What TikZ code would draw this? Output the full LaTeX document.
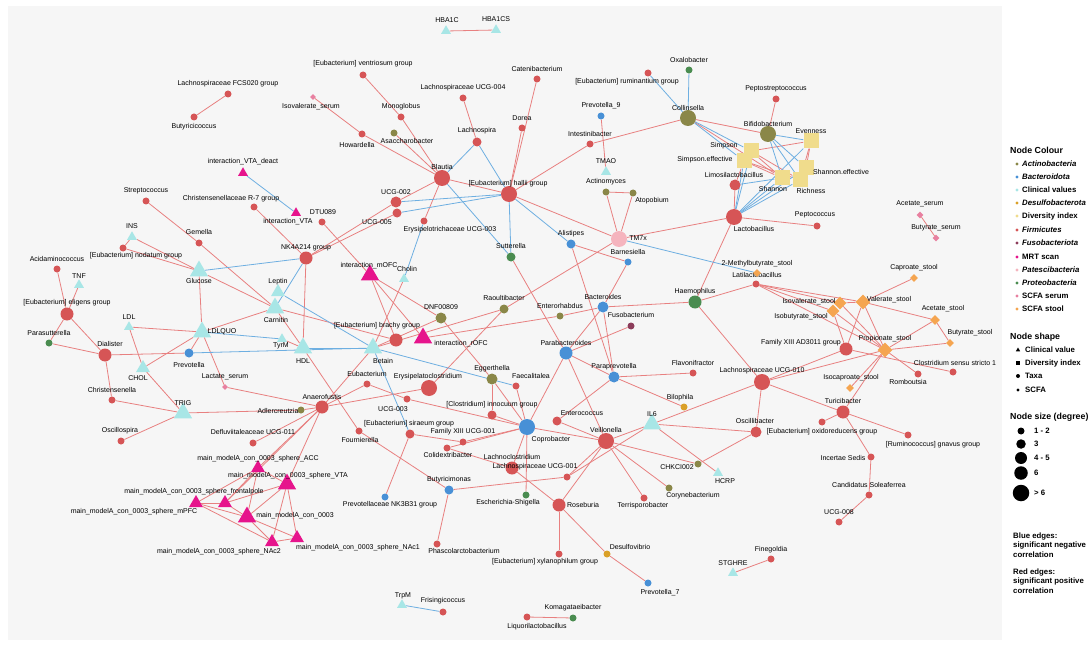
\documentclass[tikz,border=0pt]{standalone}
\usepackage{fontspec}
\setmainfont{Liberation Sans}
\usetikzlibrary{shapes.geometric}
\definecolor{cfir}{RGB}{214,85,86}
\definecolor{cbac}{RGB}{72,144,214}
\definecolor{cact}{RGB}{138,135,72}
\definecolor{cpro}{RGB}{74,140,80}
\definecolor{cfus}{RGB}{140,60,90}
\definecolor{cpat}{RGB}{245,180,190}
\definecolor{cdes}{RGB}{218,160,40}
\definecolor{ccli}{RGB}{168,230,230}
\definecolor{cdiv}{RGB}{240,220,140}
\definecolor{cmrt}{RGB}{230,20,140}
\definecolor{cser}{RGB}{232,128,160}
\definecolor{csto}{RGB}{245,165,80}
\definecolor{ered}{RGB}{232,128,128}
\definecolor{eblu}{RGB}{110,175,225}
\definecolor{panel}{RGB}{246,246,246}
\pgfdeclarelayer{bg}\pgfdeclarelayer{edges}
\pgfsetlayers{bg,edges,main}
\tikzset{
 tx/.style={circle,fill=#1,inner sep=0pt,minimum size=7pt},
 sza/.style={minimum size=7pt}, szb/.style={minimum size=9pt},
 szc/.style={minimum size=11pt}, szd/.style={minimum size=13pt},
 sze/.style={minimum size=16pt},
 tri/.style={regular polygon,regular polygon sides=3,fill=#1,inner sep=0pt,minimum size=11.5pt},
 trib/.style={tri=#1,minimum size=21pt},
 trim/.style={tri=#1,minimum size=16pt},
 dia/.style={diamond,fill=#1,inner sep=0pt,minimum size=8pt},
 sq/.style={rectangle,fill=cdiv,inner sep=0pt,minimum size=15pt},
 lbl/.style={inner sep=0pt,font=\fontsize{7}{8}\selectfont},
 lg/.style={inner sep=0pt,anchor=west,font=\fontsize{7.8}{9.1}\selectfont\bfseries},
 lgh/.style={inner sep=0pt,anchor=west,font=\fontsize{8.8}{10}\selectfont\bfseries},
 re/.style={draw=ered,line width=0.8pt},
 be/.style={draw=eblu,line width=0.8pt},
}
\newcommand\NN[7]{\node[#4] (#1) at (#2,#3) {}; \node[lbl] (#1t) at (#6,#7) {#5};}
\begin{document}
\begin{tikzpicture}[x=1pt,y=-1pt]
\useasboundingbox (0,0) rectangle (1089,647);
\begin{pgfonlayer}{bg}
\fill[white] (0,0) rectangle (1089,647);
\fill[panel] (8,6) rectangle (1002,640);
\end{pgfonlayer}
% Firmicutes
\NN{fcs}{228}{94}{tx=cfir,sza}{Lachnospiraceae FCS020 group}{228}{84}
\NN{butc}{194}{117}{tx=cfir,sza}{Butyricicoccus}{194}{127}
\NN{strep}{146}{201}{tx=cfir,sza}{Streptococcus}{146}{191}
\NN{chr7}{254}{207}{tx=cfir,sza}{Christensenellaceae R-7 group}{231}{199}
\NN{vent}{363}{75}{tx=cfir,sza}{[Eubacterium] ventriosum group}{363}{64}
\NN{mono}{401}{117}{tx=cfir,sza}{Monoglobus}{401}{107}
\NN{l004}{463}{98}{tx=cfir,sza}{Lachnospiraceae UCG-004}{463}{88}
\NN{cate}{537}{79}{tx=cfir,sza}{Catenibacterium}{537}{69}
\NN{dorea}{522}{128}{tx=cfir,sza}{Dorea}{522}{118}
\NN{howa}{362}{134}{tx=cfir,sza}{Howardella}{357}{145}
\NN{lachna}{477}{142}{tx=cfir,szb}{Lachnospira}{477}{131}
\NN{blautia}{442}{178}{tx=cfir,sze}{Blautia}{442}{167}
\NN{hallii}{509}{194}{tx=cfir,sze}{[Eubacterium] hallii group}{508}{184}
\NN{u002}{396}{202}{tx=cfir,szc}{UCG-002}{396}{192}
\NN{u005}{397}{213}{tx=cfir,szb}{UCG-005}{377}{222}
\NN{dtu}{322}{222}{tx=cfir,sza}{DTU089}{323}{212}
\NN{ery003}{424}{221}{tx=cfir,sza}{Erysipelotrichaceae UCG-003}{450}{230}
\NN{rum}{648}{73}{tx=cfir,sza}{[Eubacterium] ruminantium group}{627}{82}
\NN{pepto}{776}{99}{tx=cfir,sza}{Peptostreptococcus}{776}{89}
\NN{intest}{590}{144}{tx=cfir,sza}{Intestinibacter}{590}{134}
\NN{limo}{735}{185}{tx=cfir,szc}{Limosilactobacillus}{734}{175}
\NN{lacto}{734}{217}{tx=cfir,sze}{Lactobacillus}{754}{229}
\NN{peptoc}{817}{226}{tx=cfir,sza}{Peptococcus}{815}{215}
\NN{gemella}{199}{243}{tx=cfir,sza}{Gemella}{199}{232}
\NN{nodatum}{123}{248}{tx=cfir,sza}{[Eubacterium] nodatum group}{136}{256}
\NN{acida}{57}{269}{tx=cfir,sza}{Acidaminococcus}{57}{259}
\NN{eligens}{67}{314}{tx=cfir,szd}{[Eubacterium] eligens group}{67}{303}
\NN{dialister}{105}{355}{tx=cfir,szd}{Dialister}{110}{344}
\NN{christ}{112}{400}{tx=cfir,sza}{Christensenella}{112}{390}
\NN{oscillo}{121}{441}{tx=cfir,sza}{Oscillospira}{120}{431}
\NN{defl}{253}{443}{tx=cfir,sza}{Defluviitaleaceae UCG-011}{253}{432}
\NN{nk}{306}{258}{tx=cfir,szd}{NK4A214 group}{306}{248}
\NN{brachy}{396}{340}{tx=cfir,szd}{[Eubacterium] brachy group}{377}{326}
\NN{eubac}{367}{384}{tx=cfir,sza}{Eubacterium}{367}{374}
\NN{erysc}{429}{388}{tx=cfir,sze}{Erysipelatoclostridium}{428}{377}
\NN{faeca}{516}{386}{tx=cfir,sza}{Faecalitalea}{531}{376}
\NN{anaero}{322}{407}{tx=cfir,szd}{Anaerofustis}{322}{397}
\NN{u003}{407}{399}{tx=cfir,sza}{UCG-003}{393}{409}
\NN{innoc}{492}{415}{tx=cfir,szb}{[Clostridium] innocuum group}{492}{405}
\NN{siraeum}{410}{434}{tx=cfir,szb}{[Eubacterium] siraeum group}{409}{424}
\NN{fam001}{463}{442}{tx=cfir,sza}{Family XIII UCG-001}{463}{432}
\NN{fourn}{359}{431}{tx=cfir,sza}{Fournierella}{360}{440}
\NN{colid}{447}{448}{tx=cfir,sza}{Colidextribacter}{448}{455}
\NN{lachnocl}{512}{468}{tx=cfir,szd}{Lachnoclostridium}{512}{457}
\NN{l001}{567}{477}{tx=cfir,sza}{Lachnospiraceae UCG-001}{535}{467}
\NN{phasc}{437}{544}{tx=cfir,sza}{Phascolarctobacterium}{464}{551}
\NN{fris}{443}{612}{tx=cfir,sza}{Frisingicoccus}{443}{601}
\NN{liquor}{527}{617}{tx=cfir,sza}{Liquorilactobacillus}{537}{627}
\NN{xylan}{559}{554}{tx=cfir,sza}{[Eubacterium] xylanophilum group}{545}{562}
\NN{roseburia}{559}{505}{tx=cfir,szd}{Roseburia}{583}{505}
\NN{terri}{644}{498}{tx=cfir,sza}{Terrisporobacter}{643}{506}
\NN{finego}{771}{559}{tx=cfir,sza}{Finegoldia}{771}{550}
\NN{veillo}{606}{441}{tx=cfir,sze}{Veillonella}{606}{430}
\NN{oscib}{756}{432}{tx=cfir,szc}{Oscillibacter}{755}{421}
\NN{enteroc}{557}{421}{tx=cfir,szb}{Enterococcus}{582}{413}
\NN{flavo}{693}{373}{tx=cfir,sza}{Flavonifractor}{693}{363}
\NN{l010}{762}{382}{tx=cfir,sze}{Lachnospiraceae UCG-010}{762}{371}
\NN{latil}{756}{284}{tx=cfir,sza}{Latilactobacillus}{757}{275}
\NN{famad}{846}{349}{tx=cfir,szd}{Family XIII AD3011 group}{801}{343}
\NN{clost}{953}{372}{tx=cfir,sza}{Clostridium sensu stricto 1}{955}{363}
\NN{rombo}{918}{374}{tx=cfir,sza}{Romboutsia}{908}{382}
\NN{turi}{843}{412}{tx=cfir,szd}{Turicibacter}{843}{401}
\NN{oxido}{822}{422}{tx=cfir,sza}{[Eubacterium] oxidoreducens group}{822}{432}
\NN{gnavus}{908}{435}{tx=cfir,sza}{[Ruminococcus] gnavus group}{933}{445}
\NN{incert}{871}{457}{tx=cfir,sza}{Incertae Sedis}{843}{458}
\NN{candid}{869}{495}{tx=cfir,sza}{Candidatus Soleaferrea}{869}{485}
\NN{u008}{839}{522}{tx=cfir,sza}{UCG-008}{839}{512}
% Bacteroidota
\NN{prev9}{601}{116}{tx=cbac,sza}{Prevotella\_9}{601}{106}
\NN{prevotella}{189}{353}{tx=cbac,szb}{Prevotella}{189}{365}
\NN{alistipes}{571}{244}{tx=cbac,szb}{Alistipes}{571}{234}
\NN{barnes}{628}{262}{tx=cbac,sza}{Barnesiella}{628}{252}
\NN{bacteroides}{603}{307}{tx=cbac,szc}{Bacteroides}{603}{297}
\NN{parabac}{566}{353}{tx=cbac,szd}{Parabacteroides}{566}{343}
\NN{paraprev}{614}{377}{tx=cbac,szc}{Paraprevotella}{614}{367}
\NN{coprob}{527}{427}{tx=cbac,sze}{Coprobacter}{551}{440}
\NN{butyrim}{449}{490}{tx=cbac,szb}{Butyricimonas}{449}{480}
\NN{nk3b31}{385}{497}{tx=cbac,sza}{Prevotellaceae NK3B31 group}{390}{505}
\NN{prev7}{648}{583}{tx=cbac,sza}{Prevotella\_7}{660}{593}
% Actinobacteria
\NN{asacc}{394}{133}{tx=cact,sza}{Asaccharobacter}{407}{141}
\NN{collins}{688}{118}{tx=cact,sze}{Collinsella}{688}{108}
\NN{bifido}{768}{134}{tx=cact,sze}{Bifidobacterium}{768}{124}
\NN{actino}{606}{192}{tx=cact,sza}{Actinomyces}{606}{182}
\NN{atopo}{633}{193}{tx=cact,sza}{Atopobium}{652}{201}
\NN{adler}{301}{410}{tx=cact,sza}{Adlercreutzia}{278}{411}
\NN{dnf}{441}{318}{tx=cact,szc}{DNF00809}{441}{307}
\NN{raoult}{504}{309}{tx=cact,szb}{Raoultibacter}{504}{298}
\NN{eggert}{492}{379}{tx=cact,szc}{Eggerthella}{492}{369}
\NN{entero}{560}{316}{tx=cact,sza}{Enterorhabdus}{560}{306}
\NN{coryne}{669}{488}{tx=cact,sza}{Corynebacterium}{693}{496}
\NN{chkci}{698}{464}{tx=cact,sza}{CHKCI002}{677}{467}
% Proteobacteria and others
\NN{oxalo}{689}{70}{tx=cpro,sza}{Oxalobacter}{689}{60}
\NN{parasut}{49}{343}{tx=cpro,sza}{Parasutterella}{49}{333}
\NN{sutter}{511}{257}{tx=cpro,szb}{Sutterella}{511}{246}
\NN{haemo}{695}{302}{tx=cpro,szd}{Haemophilus}{695}{292}
\NN{escher}{526}{495}{tx=cpro,sza}{Escherichia-Shigella}{508}{503}
\NN{komag}{573}{618}{tx=cpro,sza}{Komagataeibacter}{573}{608}
\NN{fuso}{631}{326}{tx=cfus,sza}{Fusobacterium}{631}{315}
\NN{tm7x}{619}{239}{tx=cpat,sze}{TM7x}{638}{238}
\NN{bilo}{684}{407}{tx=cdes,sza}{Bilophila}{680}{398}
\NN{desulfo}{607}{554}{tx=cdes,sza}{Desulfovibrio}{630}{547}
% Clinical values
\NN{hba1c}{446}{31}{tri=ccli}{HBA1C}{447}{20}
\NN{hba1cs}{496}{30}{tri=ccli}{HBA1CS}{496}{19}
\NN{tmao}{606}{172}{tri=ccli}{TMAO}{606}{161}
\NN{ins}{132}{237}{tri=ccli}{INS}{132}{226}
\NN{tnf}{79}{285}{tri=ccli}{TNF}{79}{276}
\NN{glucose}{199}{271}{trib=ccli}{Glucose}{199}{281}
\NN{ldl}{129}{327}{tri=ccli}{LDL}{129}{317}
\NN{ldlquo}{202}{332}{trib=ccli}{LDLQUO}{222}{332}
\NN{chol}{143}{368}{trim=ccli}{CHOL}{138}{378}
\NN{trig}{183}{413}{trib=ccli}{TRIG}{183}{403}
\NN{cholin}{404}{279}{tri=ccli}{Cholin}{407}{269}
\NN{leptin}{278}{292}{trim=ccli}{Leptin}{278}{282}
\NN{carnitin}{275}{308}{trib=ccli}{Carnitin}{276}{320}
\NN{tyrm}{282}{339}{tri=ccli}{TyrM}{281}{346}
\NN{hdl}{303}{348}{trib=ccli}{HDL}{303}{361}
\NN{betain}{373}{348}{trib=ccli}{Betain}{383}{361}
\NN{il6}{652}{424}{trib=ccli}{IL6}{652}{414}
\NN{hcrp}{718}{473}{tri=ccli}{HCRP}{725}{481}
\NN{stghre}{733}{573}{tri=ccli}{STGHRE}{733}{563}
\NN{trpm}{402}{605}{tri=ccli}{TrpM}{403}{596}
% MRT scan
\NN{vtadeact}{243}{173}{tri=cmrt}{interaction\_VTA\_deact}{243}{162}
\NN{vta}{296}{213}{tri=cmrt}{interaction\_VTA}{288}{222}
\NN{mofc}{370}{275}{trib=cmrt}{interaction\_mOFC}{369}{266}
\NN{rofc}{423}{338}{trib=cmrt}{interaction\_rOFC}{461}{344}
\NN{acc}{258}{468}{trim=cmrt}{main\_modelA\_con\_0003\_sphere\_ACC}{258}{459}
\NN{vtab}{287}{484}{trib=cmrt}{main\_modelA\_con\_0003\_sphere\_VTA}{288}{476}
\NN{front}{225}{503}{trim=cmrt}{main\_modelA\_con\_0003\_sphere\_frontalpole}{194}{492}
\NN{mpfc}{196}{503}{trim=cmrt}{main\_modelA\_con\_0003\_sphere\_mPFC}{134}{512}
\NN{mainm}{247}{517}{trib=cmrt}{main\_modelA\_con\_0003}{295}{516}
\NN{nac2}{272}{542}{trim=cmrt}{main\_modelA\_con\_0003\_sphere\_NAc2}{219}{552}
\NN{nac1}{297}{538}{trim=cmrt}{main\_modelA\_con\_0003\_sphere\_NAc1}{358}{548}
% Diversity index
\NN{evenness}{811}{141}{sq}{Evenness}{811}{131}
\NN{simpson}{751}{151}{sq}{Simpson}{724}{146}
\NN{simpsoneff}{744}{161}{sq}{Simpson.effective}{705}{160}
\NN{shannon}{782}{178}{sq}{Shannon}{773}{189}
\NN{shannoneff}{806}{168}{sq}{Shannon.effective}{841}{172}
\NN{richness}{800}{180}{sq}{Richness}{811}{191}
% SCFA serum
\NN{isovs}{313}{97}{dia=cser,minimum size=6pt}{Isovalerate\_serum}{311}{107}
\NN{lacts}{225}{387}{dia=cser,minimum size=6pt}{Lactate\_serum}{225}{377}
\NN{aces}{920}{215}{dia=cser,minimum size=7pt}{Acetate\_serum}{920}{204}
\NN{buts}{936}{238}{dia=cser,minimum size=7pt}{Butyrate\_serum}{936}{228}
% SCFA stool
\NN{mbut}{757}{273}{dia=csto}{2-Methylbutyrate\_stool}{757}{264}
\NN{capro}{914}{278}{dia=csto}{Caproate\_stool}{914}{268}
\NN{isoval}{840}{303}{dia=csto,minimum size=13pt}{Isovalerate\_stool}{809}{302}
\NN{isobut}{833}{311}{dia=csto,minimum size=13pt}{Isobutyrate\_stool}{801}{317}
\NN{valer}{863}{302}{dia=csto,minimum size=15pt}{Valerate\_stool}{889}{300}
\NN{acest}{935}{320}{dia=csto,minimum size=10pt}{Acetate\_stool}{943}{309}
\NN{butst}{950}{343}{dia=csto}{Butyrate\_stool}{970}{333}
\NN{propst}{885}{350}{dia=csto,minimum size=15pt}{Propionate\_stool}{885}{339}
\NN{isocap}{850}{388}{dia=csto}{Isocaproate\_stool}{851}{378}
% edges
\begin{pgfonlayer}{edges}
\foreach \a/\b in {fcs/butc,isovs/howa,howa/blautia,vent/mono,mono/blautia,asacc/blautia,l004/lachna,dorea/hallii,cate/hallii,blautia/hallii,blautia/ery003,blautia/u002,hallii/intest,hallii/tm7x,intest/collins,nk/u002,nk/u005,chr7/nk,dtu/mofc,strep/gemella,gemella/carnitin,ins/nodatum,ins/glucose,nodatum/glucose,glucose/ldlquo,glucose/carnitin,acida/eligens,tnf/eligens,eligens/parasut,eligens/dialister,parasut/dialister,dialister/prevotella,dialister/christ,ldl/ldlquo,ldl/chol,chol/trig,chol/ldlquo,ldlquo/prevotella,ldlquo/lacts,ldlquo/carnitin,christ/trig,trig/oscillo,trig/adler,adler/anaero,lacts/anaero,nk/hdl,carnitin/hdl,tyrm/hdl,hdl/fourn,carnitin/brachy,cholin/betain,betain/dnf,betain/raoult,betain/anaero,mofc/brachy,mofc/rofc,mofc/dnf,rofc/entero,dnf/eggert,eggert/innoc,eggert/coprob,erysc/anaero,erysc/raoult,eubac/u003,u003/coprob,eubac/anaero,sutter/parabac,alistipes/barnes,barnes/bacteroides,alistipes/paraprev,entero/bacteroides,bacteroides/haemo,bacteroides/parabac,bacteroides/paraprev,fuso/parabac,parabac/paraprev,parabac/veillo,parabac/coprob,paraprev/flavo,paraprev/bilo,paraprev/enteroc,haemo/latil,haemo/l010,lacto/haemo,lacto/tm7x,lacto/peptoc,lacto/limo,tm7x/actino,tm7x/atopo,actino/atopo,prev9/tmao,tm7x/raoult,l010/il6,l010/oscib,l010/famad,l010/propst,l010/turi,oscib/il6,oscib/chkci,veillo/chkci,il6/veillo,il6/hcrp,il6/l001,veillo/enteroc,veillo/l001,veillo/terri,veillo/coryne,veillo/roseburia,veillo/coprob,roseburia/xylan,roseburia/desulfo,desulfo/prev7,roseburia/lachnocl,coprob/faeca,coprob/innoc,coprob/fam001,coprob/colid,coprob/lachnocl,coprob/escher,siraeum/fam001,siraeum/nk3b31,colid/lachnocl,fourn/butyrim,butyrim/phasc,butyrim/l001,latil/isoval,latil/isobut,latil/valer,latil/propst,valer/capro,valer/isoval,valer/acest,valer/propst,valer/famad,isoval/propst,isobut/propst,isobut/famad,propst/acest,propst/butst,acest/butst,propst/isocap,propst/turi,famad/clost,propst/rombo,turi/oxido,turi/gnavus,turi/incert,incert/candid,candid/u008,komag/liquor,stghre/finego,aces/buts,hba1c/hba1cs,collins/bifido,bifido/pepto,simpson/evenness,simpson/shannon,simpson/richness,simpsoneff/shannon,simpsoneff/richness,evenness/shannoneff,evenness/richness,limo/simpsoneff,collins/shannon,defl/anaero,anaero/acc,anaero/vtab,anaero/front,acc/front,acc/mainm,acc/vtab,acc/mpfc,vtab/mainm,vtab/nac1,vtab/nac2,vtab/front,mpfc/front,mpfc/mainm,mpfc/nac2,front/mainm,mainm/nac2,mainm/nac1,nac2/nac1}
 \draw[re] (\a) -- (\b);
\foreach \a/\b in {vtadeact/vta,blautia/lachna,hallii/lachna,blautia/sutter,hallii/sutter,hallii/alistipes,hallii/u002,hallii/u005,ery003/cholin,glucose/nk,ldlquo/tyrm,prevotella/betain,leptin/betain,carnitin/nk,hdl/betain,betain/siraeum,betain/faeca,tm7x/mbut,collins/oxalo,collins/rum,trpm/fris,collins/simpson,collins/simpsoneff,bifido/evenness,bifido/shannon,bifido/shannoneff,bifido/richness,lacto/simpson,lacto/simpsoneff,lacto/shannon,lacto/shannoneff,lacto/richness,lacto/evenness,limo/shannon}
 \draw[be] (\a) -- (\b);
\end{pgfonlayer}
% legend
\node[lgh] (lh1) at (1010,150) {Node Colour};
\foreach \n/\c/\t/\y in {a/cact/\itshape Actinobacteria/164,b/cbac/\itshape Bacteroidota/177,c/ccli/Clinical values/190,d/cdes/\itshape Desulfobacterota/203,e/cdiv/Diversity index/216,f/cfir/\itshape Firmicutes/230,g/cfus/\itshape Fusobacteriota/243,h/cmrt/MRT scan/257,i/cpat/\itshape Patescibacteria/270,j/cpro/\itshape Proteobacteria/283,k/cser/SCFA serum/296,l/csto/SCFA stool/309}{
 \node[circle,fill=\c,inner sep=0pt,minimum size=3.2pt] (lb\n) at (1017,\y) {};
 \node[lg] (lt\n) at (1022,\y) {\t};
}
\node[lgh] (lh2) at (1010,337) {Node shape};
\node[regular polygon,regular polygon sides=3,fill=black,inner sep=0pt,minimum size=5pt] (ls1) at (1018,350) {};
\node[lg] (lst1) at (1025,350) {Clinical value};
\node[rectangle,fill=black,inner sep=0pt,minimum size=3.6pt] (ls2) at (1018,363) {};
\node[lg] (lst2) at (1025,363) {Diversity index};
\node[circle,fill=black,inner sep=0pt,minimum size=4pt] (ls3) at (1018,376) {};
\node[lg] (lst3) at (1025,376) {Taxa};
\node[diamond,fill=black,inner sep=0pt,minimum size=3.4pt] (ls4) at (1018,390) {};
\node[lg] (lst4) at (1025,390) {SCFA};
\node[lgh] (lh3) at (1010,417) {Node size (degree)};
\foreach \n/\d/\t/\y in {a/7/1 - 2/431,b/9.5/3/444,c/12/4 - 5/458,d/13.5/6/473,e/16.5/> 6/493}{
 \node[circle,fill=black,inner sep=0pt,minimum size=\d pt] (lc\n) at (1021,\y) {};
 \node[lg] (lct\n) at (1034,\y) {\t};
}
\node[lg,align=left,anchor=north west] (lblue) at (1013,533) {Blue edges:\\significant negative\\correlation};
\node[lg,align=left,anchor=north west] (lred) at (1013,569) {Red edges:\\significant positive\\correlation};
\end{tikzpicture}
\end{document}
